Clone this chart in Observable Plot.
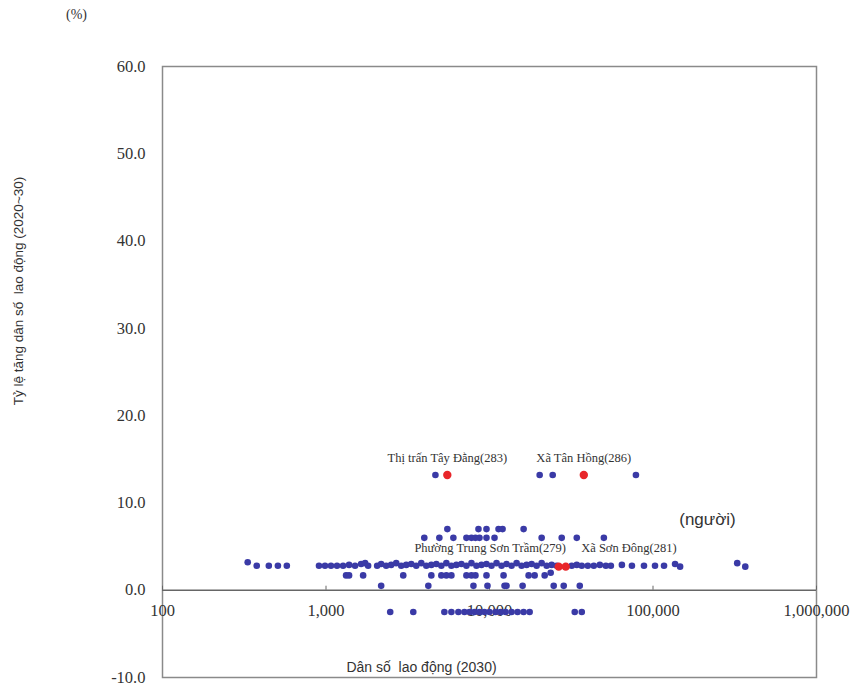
<!DOCTYPE html>
<html><head><meta charset="utf-8">
<script src="https://cdn.jsdelivr.net/npm/d3@7"></script>
<script src="https://cdn.jsdelivr.net/npm/@observablehq/plot@0.6"></script>
<style>body{margin:0;background:#fff}</style>
</head><body><div id="chart"></div>
<script>
const yTicks = [-10, 0, 10, 20, 30, 40, 50, 60];
const xTicks = [100, 1000, 10000, 100000, 1000000];

// [population 2030, growth rate %]
const row13 = [[4670,13.2],[20270,13.2],[24350,13.2],[78640,13.2]];
const row7 = [[5525,7.0],[8562,7.0],[9585,7.0],[11356,7.0],[12020,7.0],[16170,7.0]];
const row6 = [[3992,6.0],[4935,6.0],[6012,6.0],[7226,6.0],[7755,6.0],[8206,6.0],[8683,6.0],[9585,6.0],[10731,6.0],[20845,6.0],[27650,6.0],[34178,6.0],[50060,6.0]];
const rowMain = [
  [332,3.2],[377,2.8],[447,2.8],[508,2.8],[576,2.8],
  [906,2.8],[986,2.8],[1073,2.8],[1168,2.8],[1272,2.8],[1384,2.9],[1506,2.8],[1640,3.0],[1735,3.1],[1810,2.8],
  [2055,2.8],[2175,3.0],[2334,2.8],[2504,2.9],[2688,3.1],[2885,2.8],[3096,2.9],[3322,3.0],[3566,2.8],[3827,3.1],
  [4107,2.8],[4408,2.9],[4730,3.0],[5076,2.8],[5448,3.1],[5847,2.8],[6274,2.9],[6733,3.0],[7226,2.8],[7755,3.1],
  [8323,2.8],[8932,2.9],[9585,3.0],[10287,2.8],[11040,3.1],[11848,2.8],[12715,3.0],[13646,2.8],[14644,3.1],
  [15715,2.8],[16866,2.9],[18100,3.0],[19424,2.8],[20845,3.1],[22372,2.8],[24009,2.9],[25765,2.8],
  [31847,2.8],[34178,2.9],[36680,2.8],[39930,2.8],[43450,2.8],[47300,2.9],[51480,2.8],[55240,2.8],
  [64530,2.9],[74330,2.8],[88080,2.8],[102870,2.8],[116800,2.8],[136460,3.0],[146440,2.7],[327500,3.1],[366800,2.7]
];
const row17 = [[1327,1.7],[1384,1.7],[1687,1.7],[2968,1.7],[4408,1.7],[5076,1.7],[5448,1.7],[5847,1.7],[7226,1.7],[7755,1.7],[8206,1.7],[9585,1.7],[12190,1.7],[17350,1.7],[18880,1.7],[21750,1.7],[23670,2.0]];
const row05 = [[2175,0.5],[4225,0.5],[7977,0.5],[9720,0.5],[12360,0.5],[12715,0.5],[15940,0.5],[24700,0.5],[28440,0.5],[35650,0.5]];
const rowNeg = [[2470,-2.5],[3418,-2.5],[5297,-2.5],[5847,-2.5],[6452,-2.5],[7025,-2.5],[7540,-2.5],[8091,-2.5],[8683,-2.5],[9318,-2.5],[10000,-2.5],[10884,-2.5],[11680,-2.5],[12540,-2.5],[13646,-2.5],[14850,-2.5],[16170,-2.5],[17600,-2.5],[33220,-2.5],[36680,-2.5]];
const highlighted = [[5520,13.2],[37740,13.2],[26500,2.7],[29260,2.7]];

const labelNames = ["Thị trấn Tây Đằng(283)", "Xã Tân Hồng(286)", "Phường Trung Sơn Trầm(279)", "Xã Sơn Đông(281)"];
const labelX = [5525, 37740, 10100, 71270];
const labelY = [15.1, 15.1, 4.8, 4.8];

const blue = [...row13, ...row7, ...row6, ...rowMain, ...row17, ...row05, ...rowNeg];

const serif = "'Liberation Serif', 'Times New Roman', serif";
const sans = "'Liberation Sans', Arial, sans-serif";
const centered = {textAnchor: "middle", lineAnchor: "middle", text: d => d, fill: "#333"};

const chart = Plot.plot({
  width: 854, height: 686,
  marginLeft: 162, marginRight: 38, marginTop: 66, marginBottom: 9,
  x: {type: "log", domain: [100, 1e6], axis: null},
  y: {domain: [-10, 60], axis: null},
  style: {background: "#fff", color: "#222"},
  marks: [
    Plot.frame({stroke: "#8a8a8a", strokeWidth: 1.5}),
    Plot.ruleY([0], {stroke: "#666", strokeWidth: 1.5}),
    Plot.ruleX(xTicks, {x: d => d, y1: 0, y2: 0, insetTop: -4, stroke: "#666"}),
    Plot.axisY(yTicks, {tickSize: 0, tickPadding: 17, tickFormat: d => d.toFixed(1), fontSize: 16.5, fontFamily: serif, fill: "#333"}),
    Plot.text(xTicks, {x: d => d, y: 0, dy: 21, text: d => d3.format(",")(d), fontSize: 16.5, fontFamily: serif, fill: "#333"}),
    Plot.dot(blue, {x: d => d[0], y: d => d[1], r: 3.3, fill: "#3a3aa6", stroke: "none"}),
    Plot.dot(highlighted, {x: d => d[0], y: d => d[1], r: 4.2, fill: "#e8262a", stroke: "none"}),
    Plot.text(labelNames, {x: (d, i) => labelX[i], y: (d, i) => labelY[i], text: d => d, fontSize: 12.5, fontFamily: serif, fill: "#333"}),
    Plot.text(["(%)"], {...centered, frameAnchor: "top-left", dx: -86, dy: -52, fontSize: 14, fontFamily: serif}),
    Plot.text(["(người)"], {...centered, frameAnchor: "top-left", dx: 545, dy: 453, fontSize: 17, fontFamily: sans}),
    Plot.text(["Dân số\u00a0 lao động (2030)"], {...centered, frameAnchor: "bottom-left", dx: 259, dy: -10, fontSize: 14, fontFamily: sans}),
    Plot.text(["Tỷ lệ tăng dân số\u00a0 lao động (2020~30)"], {...centered, frameAnchor: "left", dx: -144, dy: -81, rotate: -90, fontSize: 13.5, fontFamily: sans})
  ]
});
document.getElementById("chart").appendChild(chart);
</script>
</body></html>
